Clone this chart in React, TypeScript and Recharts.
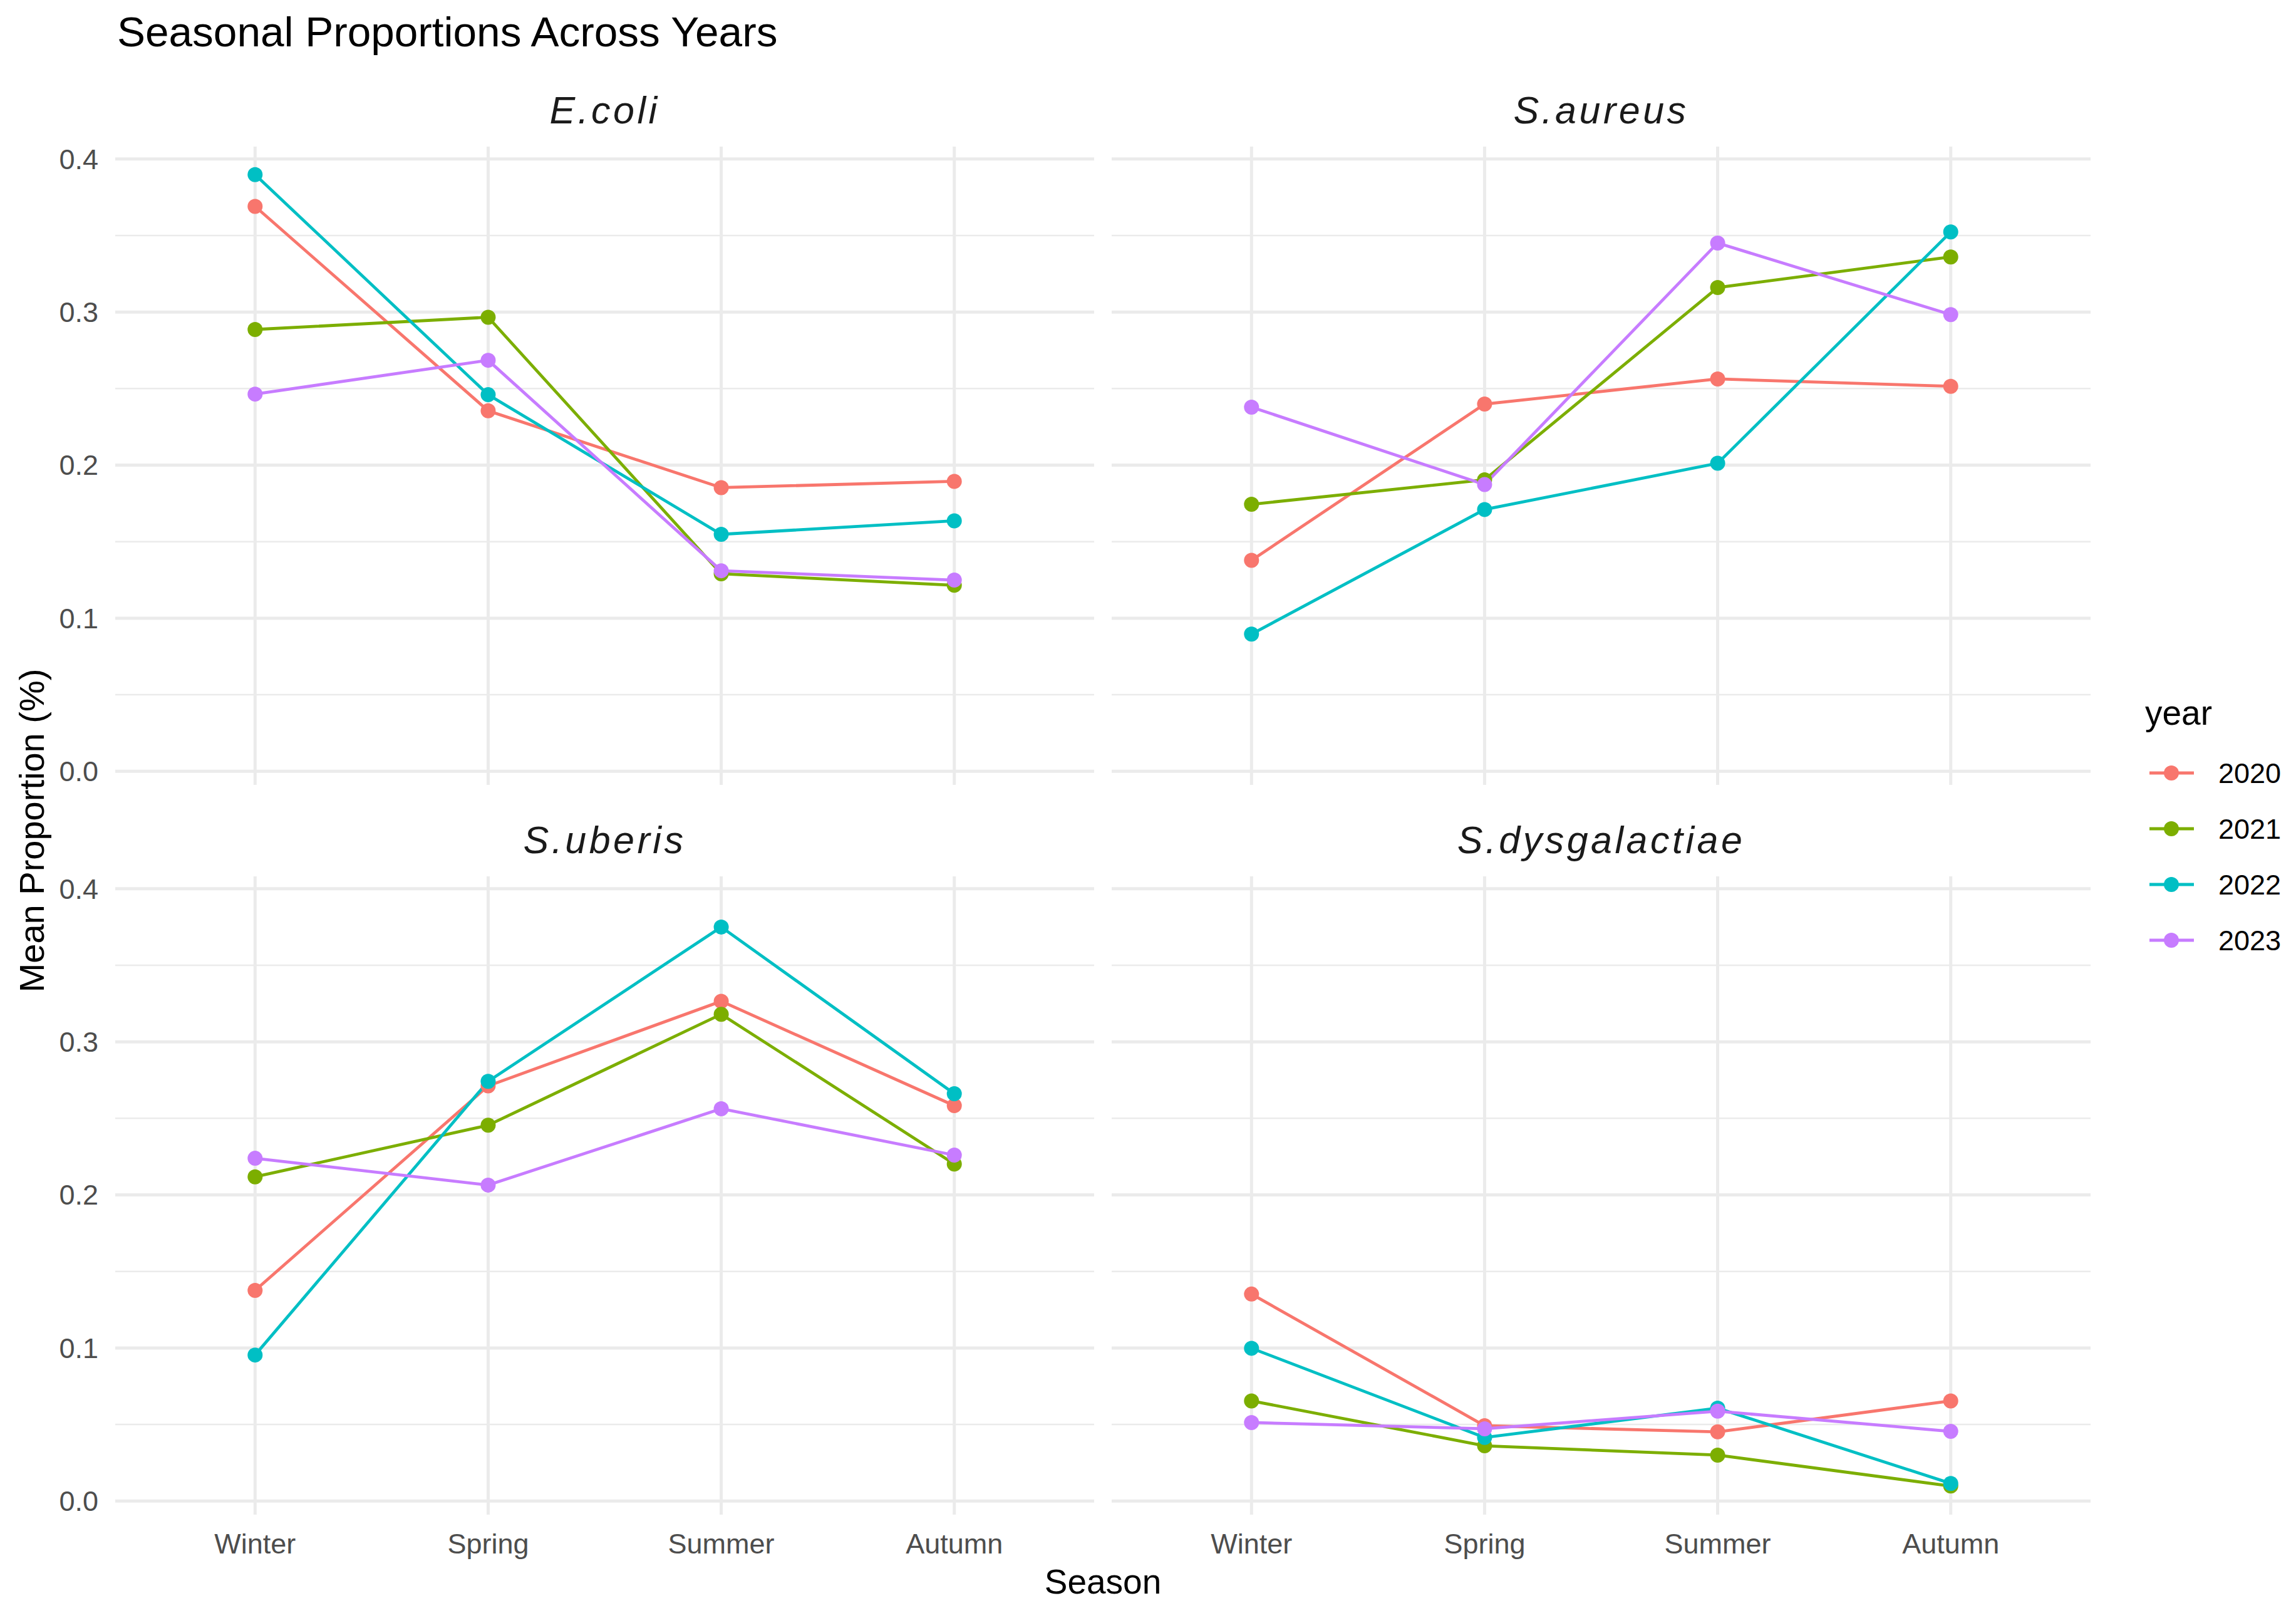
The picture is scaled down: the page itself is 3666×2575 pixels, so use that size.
import React from 'react';
import { LineChart, Line, XAxis, YAxis, CartesianGrid } from 'recharts';

const seasons = ['Winter', 'Spring', 'Summer', 'Autumn'];
const years = ['2020', '2021', '2022', '2023'];
const yearColors = ['#F8766D', '#7CAE00', '#00BFC4', '#C77CFF'];
const yTicks = [0, 0.1, 0.2, 0.3, 0.4];
const yMinorTicks = [0.05, 0.15, 0.25, 0.35];
const seasonTicks = [1, 2, 3, 4];

// rows = years (2020..2023), columns = seasons
const ecoliValues = [
  [0.369, 0.2355, 0.1853, 0.1894],
  [0.2886, 0.2966, 0.129, 0.1215],
  [0.3898, 0.246, 0.1548, 0.1636],
  [0.2464, 0.2685, 0.131, 0.1249],
];
const aureusValues = [
  [0.1378, 0.2399, 0.2563, 0.2515],
  [0.1744, 0.1904, 0.316, 0.336],
  [0.0896, 0.171, 0.2012, 0.3523],
  [0.2379, 0.1873, 0.3451, 0.2983],
];
const uberisValues = [
  [0.1376, 0.2712, 0.3265, 0.2583],
  [0.2118, 0.2455, 0.318, 0.2202],
  [0.0954, 0.2742, 0.375, 0.2661],
  [0.2239, 0.2064, 0.2563, 0.226],
];
const dysgalactiaeValues = [
  [0.1352, 0.0492, 0.0452, 0.0654],
  [0.0654, 0.0361, 0.03, 0.0098],
  [0.0998, 0.0415, 0.0607, 0.0115],
  [0.0513, 0.0472, 0.0587, 0.0455],
];

const pathogens = ['E.coli', 'S.aureus', 'S.uberis', 'S.dysgalactiae'];
const pathogenValues = [ecoliValues, aureusValues, uberisValues, dysgalactiaeValues];

// layout (px)
const PANEL_W = 1563;
const PANEL_H = 1019;
const PANEL_X = [184, 1775];
const PANEL_Y = [234, 1399];
const Y_AXIS_W = 184;
const X_AXIS_H = 100;
const PAD_V = 30; // room so tick labels at the panel edge are not clipped
const FONT = "'Liberation Sans', Arial, Helvetica, sans-serif";
const GRID = '#EBEBEB';

const buildRows = (values: number[][]) =>
  seasons.map((s, i) => {
    const row: any = { x: i + 1, season: s };
    years.forEach((y, j) => {
      row['y' + y] = values[j][i];
    });
    return row;
  });

const Panel = ({ index }: { index: number }) => {
  const col = index % 2;
  const row = Math.floor(index / 2);
  const showY = col === 0;
  const showX = row === 1;
  const width = PANEL_W + (showY ? Y_AXIS_W : 0);
  const height = PANEL_H + (showX ? X_AXIS_H : 0) + 2 * PAD_V;
  const left = showY ? PANEL_X[0] - Y_AXIS_W : PANEL_X[1];
  const data = buildRows(pathogenValues[index]);

  return (
    <div style={{ position: 'absolute', left, top: PANEL_Y[row] - PAD_V, width, height }}>
      <LineChart
        width={width}
        height={height}
        data={data}
        margin={{ top: PAD_V, right: 0, bottom: PAD_V, left: 0 }}
      >
        <CartesianGrid
          horizontalValues={yMinorTicks}
          vertical={false}
          stroke={GRID}
          strokeWidth={2.5}
        />
        <CartesianGrid
          horizontalValues={yTicks}
          verticalValues={seasonTicks}
          stroke={GRID}
          strokeWidth={5}
        />
        <XAxis
          dataKey="x"
          type="number"
          domain={[0.4, 4.6]}
          ticks={seasonTicks}
          allowDataOverflow
          hide={!showX}
          height={X_AXIS_H}
          axisLine={false}
          tickLine={false}
          tickSize={0}
          tickMargin={30}
          interval={0}
          tickFormatter={(v: number) => seasons[v - 1]}
          tick={{ fontSize: 45, fill: '#4D4D4D', fontFamily: FONT }}
        />
        <YAxis
          type="number"
          domain={[-0.0089, 0.4081]}
          ticks={yTicks}
          allowDataOverflow
          hide={!showY}
          width={Y_AXIS_W}
          axisLine={false}
          tickLine={false}
          tickSize={0}
          tickMargin={27}
          interval={0}
          tickFormatter={(v: number) => v.toFixed(1)}
          tick={{ fontSize: 45, fill: '#4D4D4D', fontFamily: FONT }}
        />
        {years.map((y, j) => (
          <Line
            key={y}
            type="linear"
            dataKey={'y' + y}
            stroke={yearColors[j]}
            strokeWidth={4.8}
            dot={{ r: 12, fill: yearColors[j], stroke: yearColors[j], strokeWidth: 0 }}
            activeDot={false}
            isAnimationActive={false}
          />
        ))}
      </LineChart>
    </div>
  );
};

const stripX = PANEL_X.map((x) => x + PANEL_W / 2);
const stripBaseline = [197, 1362];
const legendRowY = [1234, 1323, 1412, 1501];

export default function App() {
  return (
    <div
      style={{
        position: 'absolute',
        left: 0,
        top: 0,
        width: 3666,
        height: 2575,
        background: '#FFFFFF',
        fontFamily: FONT,
        overflow: 'hidden',
      }}
    >
      {pathogens.map((_, i) => (
        <Panel key={i} index={i} />
      ))}
      <svg
        width={3666}
        height={2575}
        style={{ position: 'absolute', left: 0, top: 0, pointerEvents: 'none' }}
        fontFamily={FONT}
      >
        <text x={187} y={74} fontSize={67.5} fill="#000000">
          Seasonal Proportions Across Years
        </text>
        {pathogens.map((p, i) => (
          <text
            key={p}
            x={stripX[i % 2]}
            y={stripBaseline[Math.floor(i / 2)]}
            fontSize={61}
            fontStyle="italic"
            letterSpacing={4.5}
            textAnchor="middle"
            fill="#1A1A1A"
          >
            {p}
          </text>
        ))}
        <text x={1761} y={2544} fontSize={55} textAnchor="middle" fill="#000000">
          Season
        </text>
        <text
          transform="translate(70,1326) rotate(-90)"
          fontSize={56}
          textAnchor="middle"
          fill="#000000"
        >
          Mean Proportion (%)
        </text>
        <text x={3425} y={1157} fontSize={55} fill="#000000">
          year
        </text>
        {years.map((y, j) => (
          <g key={y}>
            <line
              x1={3432}
              x2={3503}
              y1={legendRowY[j]}
              y2={legendRowY[j]}
              stroke={yearColors[j]}
              strokeWidth={4.8}
            />
            <circle cx={3467} cy={legendRowY[j]} r={12} fill={yearColors[j]} />
            <text x={3542} y={legendRowY[j] + 16} fontSize={45} fill="#000000">
              {y}
            </text>
          </g>
        ))}
      </svg>
    </div>
  );
}
